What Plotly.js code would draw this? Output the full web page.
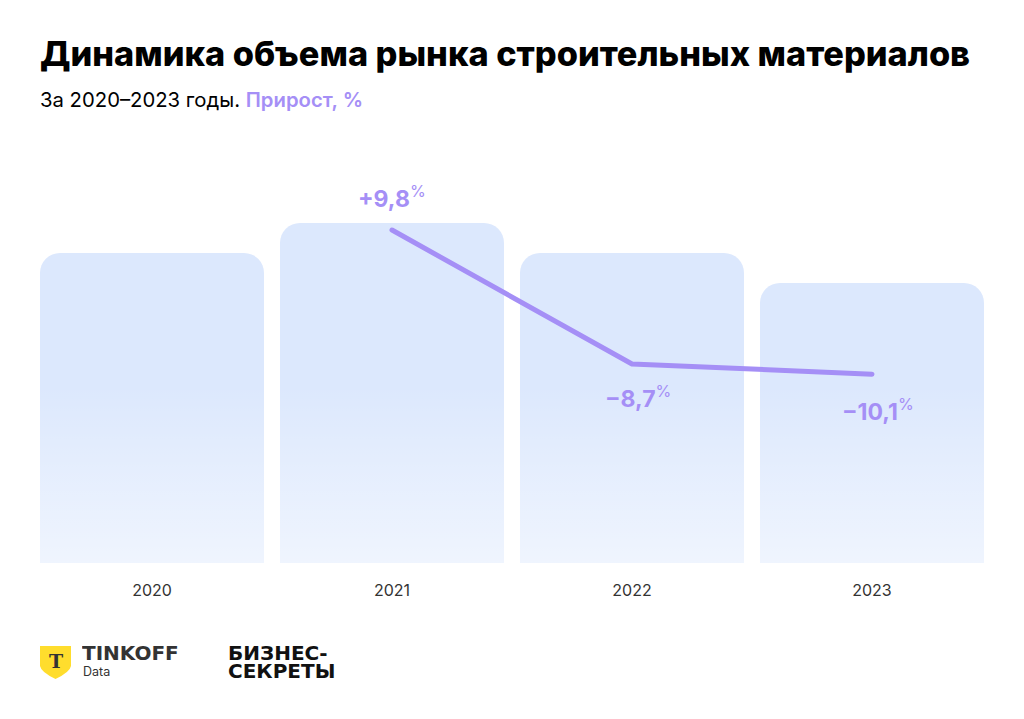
<!DOCTYPE html>
<html>
<head>
<meta charset="utf-8">
<script src="https://cdn.plot.ly/plotly-3.0.1.min.js"></script>
<style>
  html, body { margin: 0; padding: 0; background: #fff; }
  #plot { width: 1024px; height: 719px; }
</style>
</head>
<body>
<div id="plot"></div>
<script>
// values
var years = ['2020', '2021', '2022', '2023'];
var marketVolume = [310, 340, 310, 280];      // relative bar height, no units on the chart
var growthYears = ['2021', '2022', '2023'];
var growthPct = [9.8, -8.7, -10.1];
var growthLabels = ['+9,8', '−8,7', '−10,1'];

var purple = '#a58ff6';

// plot area is 32..992 px wide, 150..563 px tall
var px = function (x) { return (x - 32) / 960; };
var py = function (y) { return (563 - y) / 413; };

var bars = {
    x: years,
    y: marketVolume,
    type: 'bar',
    marker: { color: '#dce8fd', cornerradius: 20, line: { width: 0 } },
    hoverinfo: 'skip'
};

var growth = {
    x: growthYears,
    y: growthPct,
    yaxis: 'y2',
    type: 'scatter',
    mode: 'lines',
    line: { color: purple, width: 5 },
    hoverinfo: 'skip'
};

var labelShift = [[0, 33], [6, -33], [6, -36]];
var annotations = growthYears.map(function (yr, i) {
    return {
        x: years.indexOf(yr), y: growthPct[i], xref: 'x', yref: 'y2',
        xanchor: 'center', yanchor: 'middle',
        text: '<b>' + growthLabels[i] + '</b><sup>%</sup>',
        showarrow: false,
        xshift: labelShift[i][0], yshift: labelShift[i][1],
        font: { family: 'Inter', size: 23, color: purple }
    };
});

function note(x, y, text, font, anchor, h) {
    var a = {
        xref: 'paper', yref: 'paper', x: px(x), y: py(y),
        xanchor: anchor || 'left', yanchor: 'middle', align: 'left',
        text: text, showarrow: false, font: font
    };
    if (h) a.height = h;
    return a;
}

annotations.push(
    {
        xref: 'paper', yref: 'paper', x: px(38), y: py(31), xanchor: 'left', yanchor: 'top',
        text: 'Динамика объема рынка строительных материалов',
        showarrow: false,
        font: { family: 'Inter', size: 34.3, weight: 800, color: '#000' }
    },
    {
        xref: 'paper', yref: 'paper', x: px(38), y: py(85), xanchor: 'left', yanchor: 'top',
        text: 'За 2020–2023 годы. <span style="color:' + purple + ';font-weight:600">Прирост, %</span>',
        showarrow: false,
        font: { family: 'Inter', size: 20.3, color: '#000' }
    },
    note(55.5, 661, '<b>Т</b>', { family: 'DejaVu Serif', size: 19, color: '#333' }, 'center'),
    note(80, 653, '<b>TINKOFF</b>', { family: 'DejaVu Sans', size: 20, color: '#333' }, 'left', 16),
    note(81, 671, 'Data', { family: 'Inter', size: 12.5, color: '#333' }, 'left', 14),
    note(226, 653, '<b>БИЗНЕС-</b>', { family: 'DejaVu Sans', size: 20, color: '#111' }, 'left', 16),
    note(226, 671, '<b>СЕКРЕТЫ</b>', { family: 'DejaVu Sans', size: 20, color: '#111' }, 'left', 16)
);

// light fade towards the bottom of the bars
var fadeSvg = "<svg xmlns='http://www.w3.org/2000/svg' width='10' height='100' preserveAspectRatio='none'>" +
    "<defs><linearGradient id='g' x1='0' y1='0' x2='0' y2='1'>" +
    "<stop offset='0' stop-color='white' stop-opacity='0'/>" +
    "<stop offset='1' stop-color='white' stop-opacity='0.55'/>" +
    "</linearGradient></defs><rect width='10' height='100' fill='url(%23g)'/></svg>";

var shield = 'M' + px(40) + ',' + py(646) + ' L' + px(71) + ',' + py(646) +
    ' L' + px(71) + ',' + py(666) + ' Q' + px(70) + ',' + py(672) + ' ' + px(55.5) + ',' + py(679) +
    ' Q' + px(41) + ',' + py(672) + ' ' + px(40) + ',' + py(666) + ' Z';

var layout = {
    width: 1024,
    height: 719,
    margin: { l: 32, r: 32, t: 150, b: 156 },
    paper_bgcolor: '#fff',
    plot_bgcolor: '#fff',
    showlegend: false,
    hovermode: false,
    bargap: 0.0667,
    xaxis: {
        type: 'category',
        range: [-0.5, 3.5],
        showgrid: false, zeroline: false, showline: false,
        ticks: '', ticklabelstandoff: 16,
        tickfont: { family: 'Inter', size: 16, color: '#333' }
    },
    yaxis: { range: [0, 413], visible: false, fixedrange: true },
    yaxis2: { range: [-36.17, 20.85], overlaying: 'y', visible: false, fixedrange: true },
    annotations: annotations,
    shapes: [{
        type: 'path', xref: 'paper', yref: 'paper', path: shield,
        fillcolor: '#ffdd2d', line: { width: 0 }
    }],
    images: [{
        source: 'data:image/svg+xml;utf8,' + fadeSvg,
        xref: 'paper', yref: 'paper',
        x: 0, y: py(385), sizex: 1, sizey: py(385),
        xanchor: 'left', yanchor: 'top',
        sizing: 'stretch', layer: 'above'
    }]
};

Plotly.newPlot('plot', [bars, growth], layout, { staticPlot: true }).then(function () {
    document.querySelectorAll('.scatterlayer path.js-line').forEach(function (p) {
        p.style.strokeLinecap = 'round';
        p.style.strokeLinejoin = 'round';
    });
});
</script>
</body>
</html>
